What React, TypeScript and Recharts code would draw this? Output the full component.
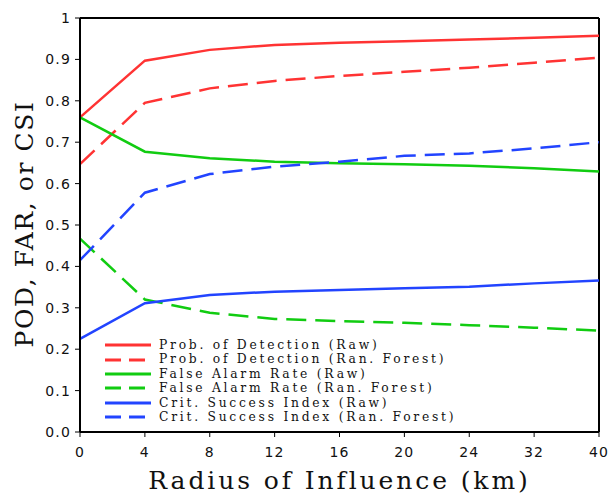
import React from "react";
import { LineChart, Line, XAxis, YAxis, Legend, ReferenceLine } from "recharts";

const radius = ["0", "4", "8", "12", "16", "20", "24", "32", "40"];
const podRaw = [0.76, 0.897, 0.923, 0.935, 0.94, 0.944, 0.948, 0.952, 0.957];
const podRF = [0.647, 0.795, 0.83, 0.848, 0.86, 0.87, 0.88, 0.892, 0.904];
const farRaw = [0.76, 0.677, 0.661, 0.653, 0.649, 0.647, 0.643, 0.637, 0.629];
const farRF = [0.467, 0.32, 0.288, 0.273, 0.268, 0.264, 0.258, 0.252, 0.245];
const csiRaw = [0.225, 0.311, 0.331, 0.339, 0.343, 0.347, 0.351, 0.359, 0.366];
const csiRF = [0.415, 0.578, 0.623, 0.641, 0.653, 0.667, 0.673, 0.685, 0.7];
const yTicks = [0, 0.1, 0.2, 0.3, 0.4, 0.5, 0.6, 0.7, 0.8, 0.9, 1];

const RED = "#ff3333";
const GREEN = "#11cc11";
const BLUE = "#2244ff";
const DASH = "20 9";

const series = [
  { key: "podRaw", name: "Prob. of Detection (Raw)", color: RED, dash: undefined },
  { key: "podRF", name: "Prob. of Detection (Ran. Forest)", color: RED, dash: DASH },
  { key: "farRaw", name: "False Alarm Rate (Raw)", color: GREEN, dash: undefined },
  { key: "farRF", name: "False Alarm Rate (Ran. Forest)", color: GREEN, dash: DASH },
  { key: "csiRaw", name: "Crit. Success Index (Raw)", color: BLUE, dash: undefined },
  { key: "csiRF", name: "Crit. Success Index (Ran. Forest)", color: BLUE, dash: DASH },
];

const data = radius.map((r, i) => ({
  r,
  podRaw: podRaw[i],
  podRF: podRF[i],
  farRaw: farRaw[i],
  farRF: farRF[i],
  csiRaw: csiRaw[i],
  csiRF: csiRF[i],
}));

const tickStyle = { fill: "#111", fontSize: 14, fontFamily: "DejaVu Sans", letterSpacing: 1.2 };
const serif = "'DejaVu Serif', serif";

const fmtY = (v: number) => (v === 0 ? "0.0" : v === 1 ? "1" : v.toFixed(1));

function renderLegend() {
  return (
    <div style={{ fontFamily: serif, fontSize: 12.3, lineHeight: "14.4px", color: "#111", letterSpacing: 2.75 }}>
      {series.map((s) => (
        <div key={s.key} style={{ display: "flex", alignItems: "center", height: 14.4 }}>
          <svg width={46} height={6} style={{ marginRight: 8, flex: "none" }}>
            <line x1={0} y1={3} x2={46} y2={3} stroke={s.color} strokeWidth={3}
              strokeDasharray={s.dash ? "16 8" : undefined} />
          </svg>
          <span style={{ whiteSpace: "pre" }}>{s.name}</span>
        </div>
      ))}
    </div>
  );
}

export default function App() {
  return (
    <div style={{ position: "absolute", left: 0, top: 0 }}>
      <LineChart width={612} height={496} data={data}
        margin={{ top: 18, right: 13, bottom: 0, left: 0 }}>
        <XAxis dataKey="r" height={64} tick={tickStyle} tickSize={5} tickMargin={10}
          axisLine={{ stroke: "#000", strokeWidth: 2 }} tickLine={{ stroke: "#000" }}
          interval={0}
          label={{
            content: () => (
              <text x={339.5} y={489} textAnchor="middle" fontFamily={serif}
                fontSize={25} letterSpacing={2.9} fill="#111">Radius of Influence (km)</text>
            ),
          }} />
        <YAxis width={80} domain={[0, 1]} ticks={yTicks} tickFormatter={fmtY}
          tick={tickStyle} tickSize={5} tickMargin={4} interval={0}
          axisLine={{ stroke: "#000", strokeWidth: 2 }} tickLine={{ stroke: "#000" }}
          label={{
            content: () => (
              <text x={33} y={224} transform="rotate(-90 33 224)" textAnchor="middle"
                fontFamily={serif} fontSize={25} letterSpacing={1.6} fill="#111">POD, FAR, or CSI</text>
            ),
          }} />
        <ReferenceLine y={1} stroke="#000" strokeWidth={2} />
        <ReferenceLine x="40" stroke="#000" strokeWidth={2} />
        <Legend layout="vertical" align="center" verticalAlign="middle"
          content={renderLegend}
          wrapperStyle={{ position: "absolute", left: 105, top: 338, width: 420 }} />
        {series.map((s) => (
          <Line key={s.key} type="linear" dataKey={s.key} name={s.name} stroke={s.color}
            strokeWidth={2.5} strokeDasharray={s.dash} dot={false} activeDot={false}
            isAnimationActive={false} />
        ))}
      </LineChart>
    </div>
  );
}
